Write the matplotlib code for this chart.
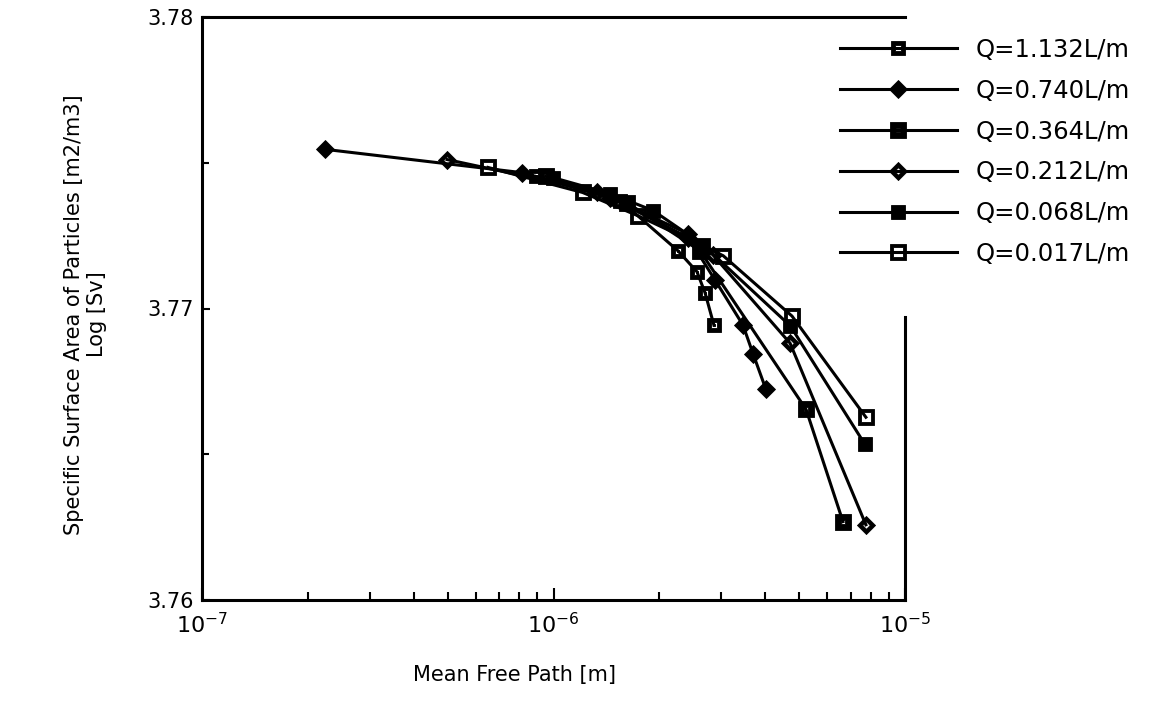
import matplotlib
matplotlib.use('Agg')
import matplotlib.pyplot as plt
from matplotlib.path import Path
from matplotlib.ticker import FixedLocator, LogLocator, NullFormatter, FormatStrFormatter

plt.rcParams.update({
    'font.family': 'DejaVu Sans',
    'font.size': 15,
    'mathtext.default': 'regular',
})

# data (x: mean free path [m], y: log Sv)
q_labels = ['Q=1.132L/m', 'Q=0.740L/m', 'Q=0.364L/m',
            'Q=0.212L/m', 'Q=0.068L/m', 'Q=0.017L/m']

x_q1132 = [8.9e-7, 1.55e-6, 2.26e-6, 2.56e-6, 2.70e-6, 2.86e-6]
y_q1132 = [3.77453, 3.77370, 3.77198, 3.77126, 3.77053, 3.76943]

x_q0740 = [2.24e-7, 8.14e-7, 1.45e-6, 2.42e-6, 2.88e-6, 3.46e-6, 3.70e-6, 4.02e-6]
y_q0740 = [3.77546, 3.77466, 3.77380, 3.77243, 3.77098, 3.76943, 3.76843, 3.76723]

x_q0364 = [9.5e-7, 1.62e-6, 2.61e-6, 5.23e-6, 6.66e-6]
y_q0364 = [3.77453, 3.77363, 3.77198, 3.76654, 3.76269]

x_q0212 = [4.98e-7, 1.33e-6, 2.41e-6, 2.84e-6, 4.71e-6, 7.74e-6]
y_q0212 = [3.77511, 3.77401, 3.77257, 3.77184, 3.76881, 3.76258]

x_q0068 = [9.97e-7, 1.45e-6, 1.92e-6, 2.66e-6, 4.72e-6, 7.69e-6]
y_q0068 = [3.77449, 3.77394, 3.77336, 3.77219, 3.76940, 3.76534]

x_q0017 = [6.51e-7, 1.21e-6, 1.74e-6, 3.04e-6, 4.77e-6, 7.74e-6]
y_q0017 = [3.77484, 3.77398, 3.77318, 3.77181, 3.76974, 3.76627]


def square_ring(inner, dot=0.0):
    # outer square, hole, optional centre dot
    verts = [(-1, -1), (1, -1), (1, 1), (-1, 1), (-1, -1),
             (-inner, -inner), (-inner, inner), (inner, inner), (inner, -inner), (-inner, -inner)]
    codes = [Path.MOVETO, Path.LINETO, Path.LINETO, Path.LINETO, Path.CLOSEPOLY] * 2
    if dot > 0:
        verts += [(-dot, -dot), (dot, -dot), (dot, dot), (-dot, dot), (-dot, -dot)]
        codes += [Path.MOVETO, Path.LINETO, Path.LINETO, Path.LINETO, Path.CLOSEPOLY]
    return Path(verts, codes)


def diamond_ring(inner):
    verts = [(0, -1), (1, 0), (0, 1), (-1, 0), (0, -1),
             (0, -inner), (-inner, 0), (0, inner), (inner, 0), (0, -inner)]
    codes = [Path.MOVETO, Path.LINETO, Path.LINETO, Path.LINETO, Path.CLOSEPOLY] * 2
    return Path(verts, codes)


series = [
    (x_q1132, y_q1132, square_ring(0.5, 0.2), 10),
    (x_q0740, y_q0740, 'D', 9),
    (x_q0364, y_q0364, square_ring(0.28), 11),
    (x_q0212, y_q0212, diamond_ring(0.42), 13),
    (x_q0068, y_q0068, 's', 9.5),
    (x_q0017, y_q0017, square_ring(0.6), 11),
]

fig = plt.figure(figsize=(11.61, 7.03), dpi=100)
ax = fig.add_axes([202 / 1161, 103 / 703, 703 / 1161, 583 / 703])

for (xs, ys, mk, ms), lab in zip(series, q_labels):
    ax.plot(xs, ys, color='black', lw=2.2, marker=mk, ms=ms,
            mfc='black', mec='black', mew=0.6, label=lab)

ax.set_xscale('log')
ax.set_xlim(1e-7, 1e-5)
ax.set_ylim(3.76, 3.78)

ax.yaxis.set_major_locator(FixedLocator([3.76, 3.77, 3.78]))
ax.yaxis.set_minor_locator(FixedLocator([3.765, 3.775]))
ax.yaxis.set_major_formatter(FormatStrFormatter('%.2f'))
ax.xaxis.set_major_locator(LogLocator(base=10, numticks=5))
ax.xaxis.set_minor_locator(LogLocator(base=10, subs=range(2, 10), numticks=20))
ax.xaxis.set_minor_formatter(NullFormatter())

ax.tick_params(which='both', direction='in', top=False, right=False, labelsize=15, width=1.5)
ax.tick_params(axis='x', which='major', length=9, pad=9, labelsize=16)
ax.tick_params(axis='x', which='minor', length=6)
ax.tick_params(axis='y', which='major', length=6, pad=6)
ax.tick_params(axis='y', which='minor', length=5)

for side in ['left', 'bottom', 'top', 'right']:
    ax.spines[side].set_linewidth(2.2)
ax.spines['right'].set_bounds(3.76, 3.7697)

ax.set_xlabel('Mean Free Path [m]', fontsize=15)
ax.xaxis.set_label_coords(0.444, -0.112)
ax.set_ylabel('Specific Surface Area of Particles [m2/m3]\nLog [Sv]', fontsize=15, linespacing=1.2)
ax.yaxis.set_label_coords(-0.135, 0.49)

leg = ax.legend(loc='upper left', bbox_to_anchor=(840 / 1161, 1 - 38 / 703),
                bbox_transform=fig.transFigure, frameon=False, fontsize=17.5,
                handlelength=4.8, handletextpad=0.8, labelspacing=0.69,
                borderpad=0, borderaxespad=0, numpoints=1)
leg.set_zorder(5)

fig.savefig('out.png', dpi=100)
